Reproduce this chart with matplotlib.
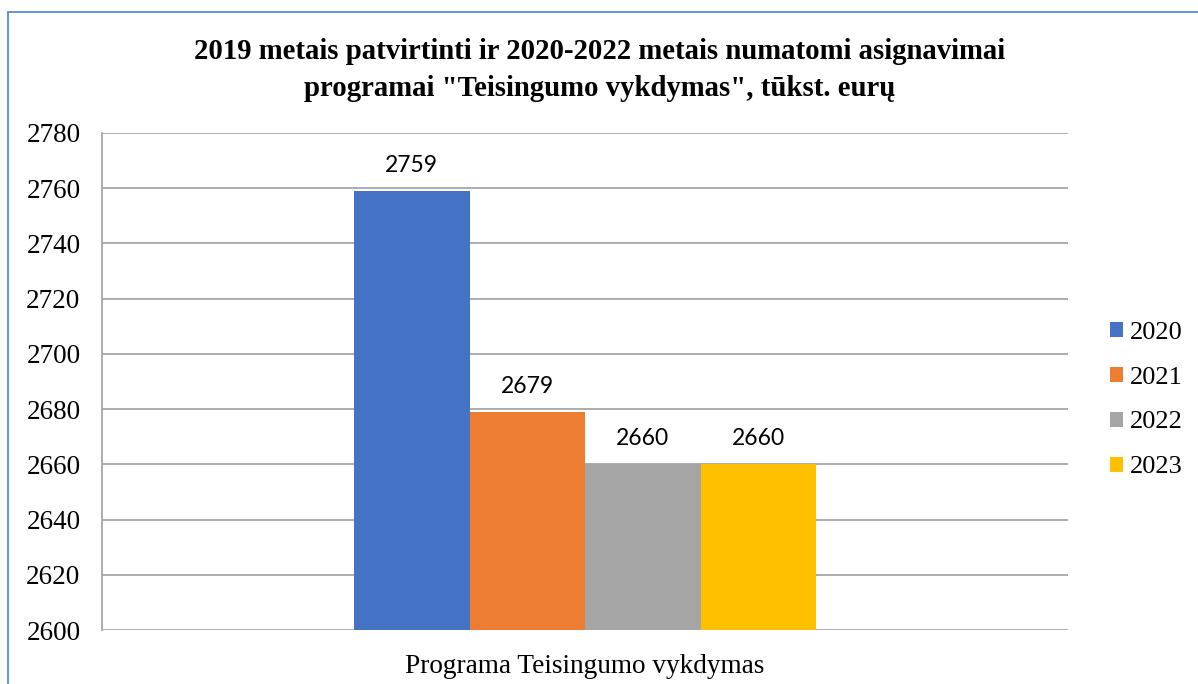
import matplotlib
matplotlib.use("Agg")
import matplotlib.pyplot as plt
from matplotlib.patches import Rectangle

title = '2019 metais patvirtinti ir 2020-2022 metais numatomi asignavimai\nprogramai "Teisingumo vykdymas", tūkst. eurų'
category = "Programa Teisingumo vykdymas"
series = ["2020", "2021", "2022", "2023"]
values = [2759, 2679, 2660, 2660]
colors = ["#4472C4", "#ED7D31", "#A5A5A5", "#FFC000"]
yticks = [2600, 2620, 2640, 2660, 2680, 2700, 2720, 2740, 2760, 2780]

fig = plt.figure(figsize=(11.98, 6.84), dpi=100)
W, H = 1198, 684
ax = fig.add_axes([102 / W, 1 - 630 / H, (1068 - 102) / W, (630 - 133) / H])

serif = "Liberation Serif"
bar_w = 115.5 / (1068 - 102)
n = len(series)
for i, (s, v, c) in enumerate(zip(series, values, colors)):
    x = 0.5 + (i - (n - 1) / 2) * bar_w
    ax.bar(x, v - yticks[0], bottom=yticks[0], width=bar_w, color=c, label=s, zorder=3)
    ax.text(x, v + 5.5, f"{v}", ha="center", va="bottom", fontsize=16.5,
            family="Lato", color="#000000", zorder=4)

ax.set_xlim(0, 1)
ax.set_ylim(yticks[0], yticks[-1])
ax.set_yticks(yticks)
ax.set_yticklabels([str(t) for t in yticks], family=serif, fontsize=19.5)
ax.tick_params(axis="y", length=0, pad=15.5)
ax.set_xticks([0.5])
ax.set_xticklabels([category], family=serif, fontsize=19.6)
ax.tick_params(axis="x", length=0, pad=17)
ax.grid(axis="y", color="#A6A6A6", linewidth=1.3, zorder=0)
for sp in ["top", "right", "bottom"]:
    ax.spines[sp].set_visible(False)
ax.spines["left"].set_color("#A6A6A6")
ax.spines["left"].set_linewidth(1.3)

fig.text(600 / W, 1 - 70 / H, title, ha="center", va="center", family=serif,
         fontweight="bold", fontsize=20.7, linespacing=1.5)

leg = fig.legend(loc="center left", bbox_to_anchor=(1086 / W, 1 - 400 / H), frameon=False,
                 prop={"family": serif, "size": 19}, handlelength=0.5, handleheight=0.5,
                 handletextpad=0.25, labelspacing=0.87)

fig.patches.append(Rectangle((8 / W, -0.1), 1.2, 1 - 12 / H + 0.1, transform=fig.transFigure,
                             fill=False, edgecolor="#5B8BD9", linewidth=1.3))

fig.savefig("out.png", dpi=100)
